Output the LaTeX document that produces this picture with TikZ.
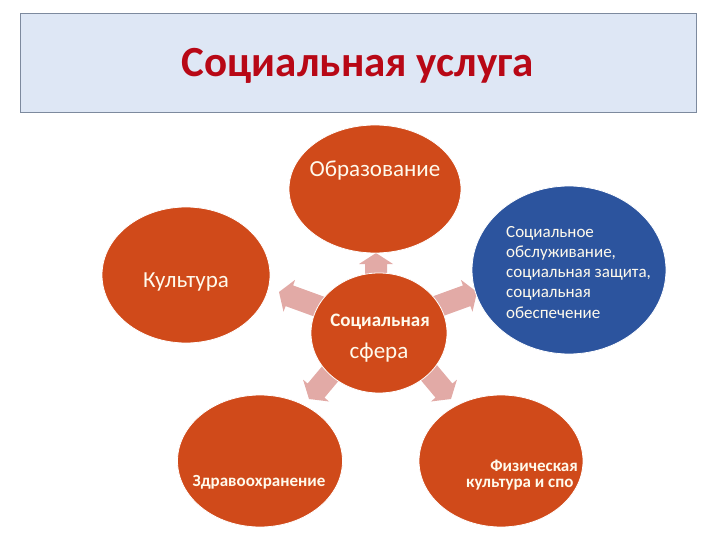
\documentclass[tikz,border=0pt]{standalone}
\usepackage{fontspec}
\setmainfont{Carlito}
\usetikzlibrary{shapes.geometric}
\definecolor{orng}{RGB}{208,74,26}
\definecolor{blu}{RGB}{44,84,158}
\definecolor{arr}{RGB}{226,170,166}
\definecolor{ttlfill}{RGB}{222,231,245}
\definecolor{ttlline}{RGB}{125,138,158}
\definecolor{ttltext}{RGB}{184,8,22}
\definecolor{txt}{RGB}{255,250,236}
\newcommand{\myarrow}[3]{\fill[arr, shift={(#1,#2)}, rotate=#3] (0,0) -- (-11,17) -- (-11,11) -- (-50,11) -- (-50,-11) -- (-11,-11) -- (-11,-17) -- cycle;}
\begin{document}
\begin{tikzpicture}[x=1pt,y=-1pt,
  bubble/.style={ellipse, draw=white, line width=0.8pt, inner sep=0pt},
  lbl/.style={text=txt, inner sep=0pt, anchor=base}]
\useasboundingbox (0,0) rectangle (720,540);
% title
\node[draw=ttlline, fill=ttlfill, line width=0.8pt, minimum width=676pt, minimum height=99pt, inner sep=0pt] (titlebox) at (358,63) {};
\node[font=\bfseries\fontsize{43}{47}\selectfont, text=ttltext, anchor=base, inner sep=0pt] (title) at (358,77) {Социальная услуга};
% arrows
\myarrow{376}{253}{90}
\myarrow{279}{292}{160}
\myarrow{477}{292}{20}
\myarrow{309}{399}{-130}
\myarrow{451}{399}{-50}
% bubbles
\node[bubble, fill=orng, minimum width=172pt, minimum height=128pt] (obr) at (375,189) {};
\node[bubble, fill=orng, minimum width=168pt, minimum height=136pt] (kult) at (186,275) {};
\node[bubble, fill=orng, minimum width=136pt, minimum height=120pt] (sfera) at (379,333) {};
\node[bubble, fill=blu, minimum width=194pt, minimum height=168pt] (soc) at (569,270) {};
\node[bubble, fill=orng, minimum width=165pt, minimum height=132pt] (zdr) at (260,461) {};
\node[bubble, fill=orng, minimum width=164pt, minimum height=132pt] (fiz) at (501,461) {};
% labels
\node[lbl, font=\fontsize{23}{27}\selectfont] (obrt) at (375,177) {Образование};
\node[lbl, font=\fontsize{23}{27}\selectfont] (kultt) at (186,287) {Культура};
\node[lbl, font=\bfseries\fontsize{19}{22}\selectfont] (sf1) at (380,326) {Социальная};
\node[lbl, font=\fontsize{23}{27}\selectfont] (sf2) at (379,358) {сфера};
\node[lbl, anchor=base west, font=\fontsize{17}{20.3}\selectfont] (soct) at (506,237)
  {\begin{tabular}[t]{@{}l@{}}Социальное\\обслуживание,\\социальная защита,\\социальная\\обеспечение\end{tabular}};
\node[lbl, font=\bfseries\fontsize{17}{20}\selectfont] (zdrt) at (259,486) {Здравоохранение};
\node[lbl, anchor=base east, font=\bfseries\fontsize{17}{20}\selectfont] (fiz1) at (578,471) {Физическая};
\node[lbl, anchor=base west, font=\bfseries\fontsize{17}{20}\selectfont] (fiz2) at (466,487) {культура и спо};
\end{tikzpicture}
\end{document}
